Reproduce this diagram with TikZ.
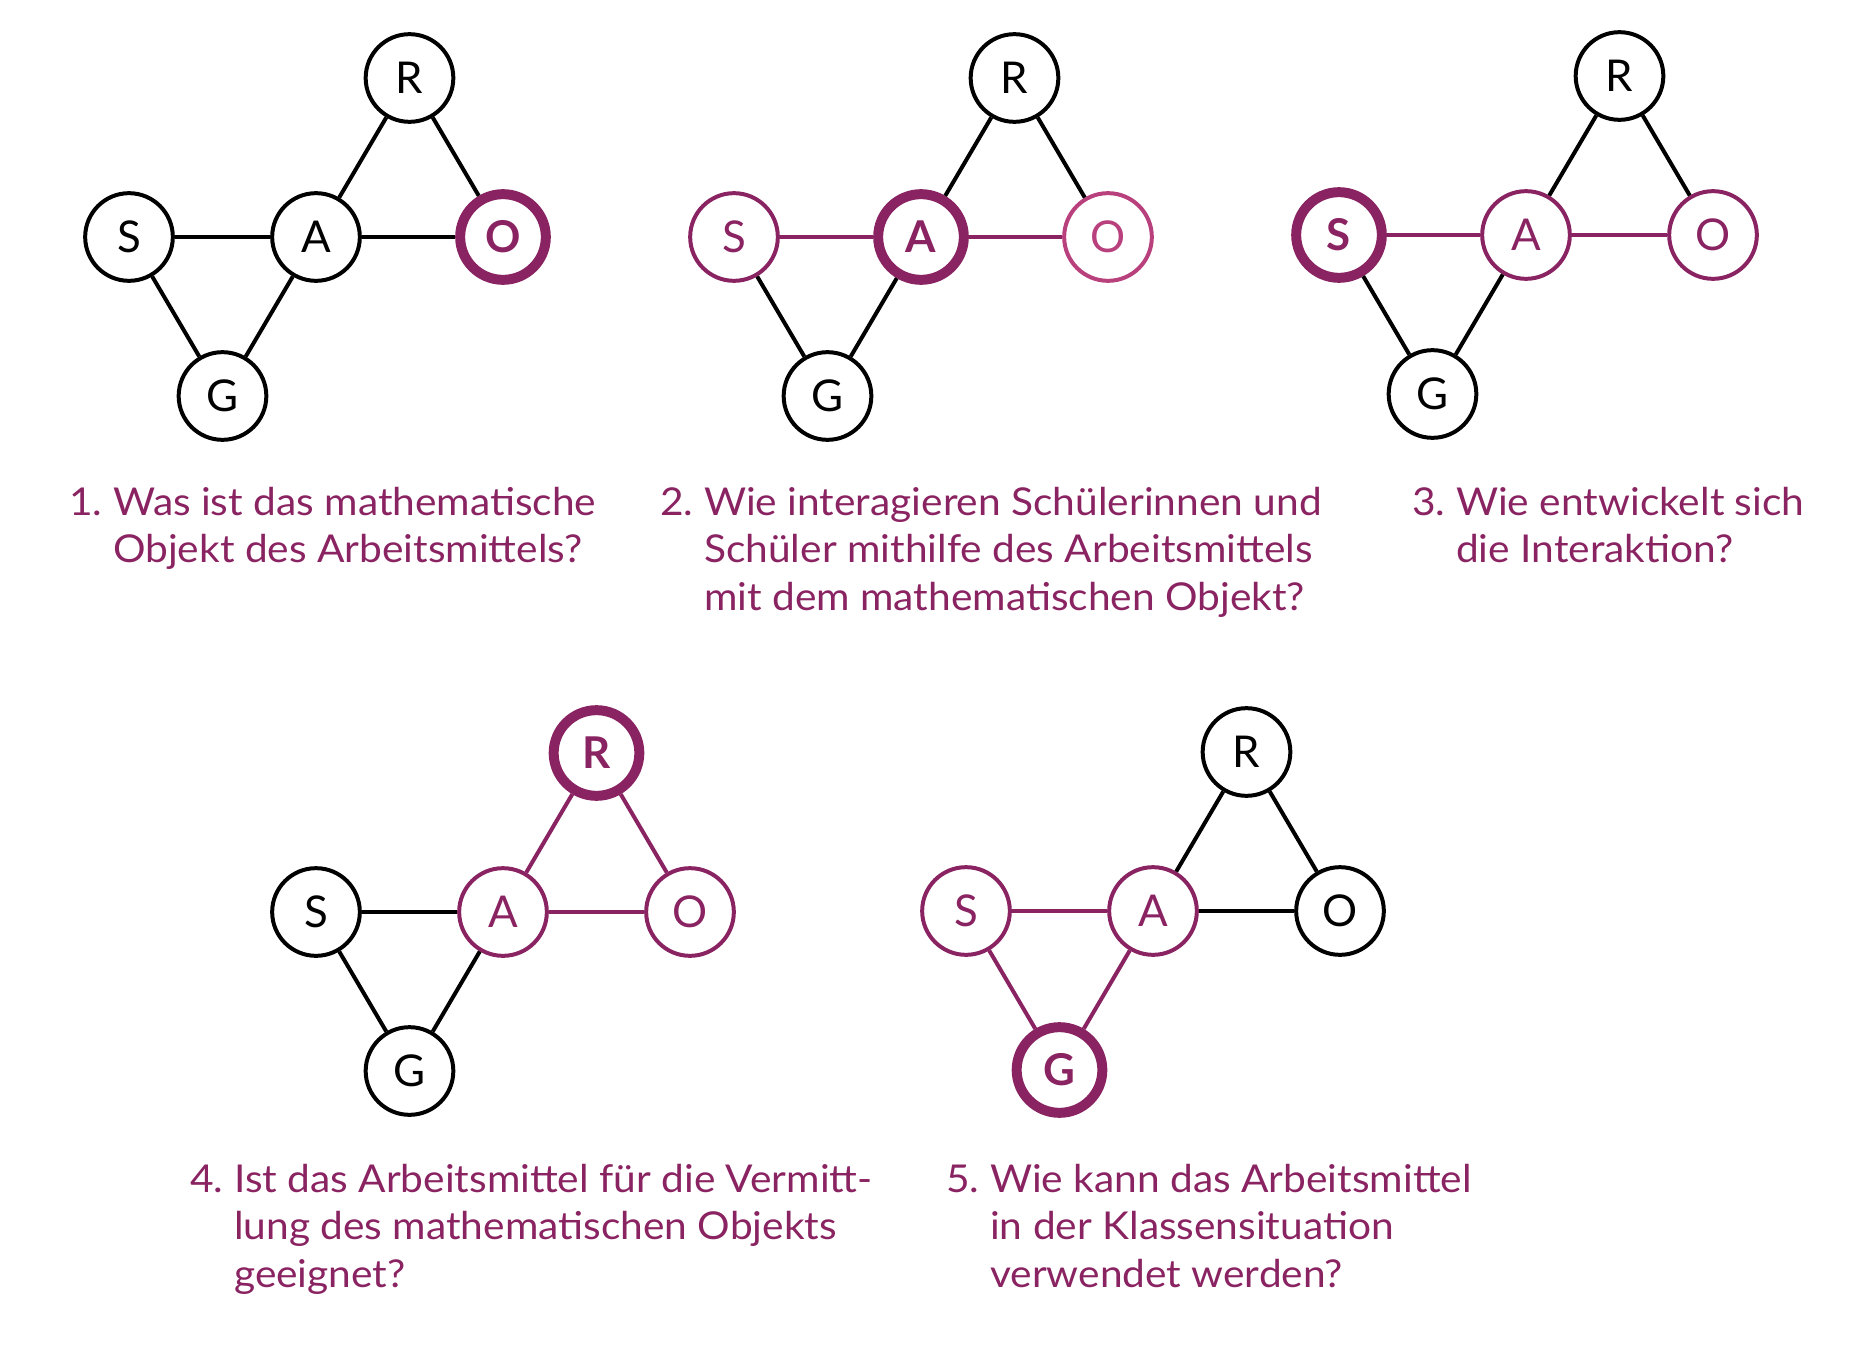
\documentclass[tikz,border=0pt]{standalone}
\usepackage{fontspec}
\setmainfont{Lato}
\newfontfamily\qfont{Lato}[FakeStretch=1.06]
\usepackage{tikz}
\usetikzlibrary{positioning}
\definecolor{saoPurple}{HTML}{8A2361}
\definecolor{saoPink}{HTML}{B8407D}

\tikzset{
  vtx/.style={circle, draw=black, line width=4pt, minimum size=88pt, inner sep=0pt,
    font=\fontsize{44}{44}\selectfont},
  pvtx/.style={vtx, draw=saoPurple, text=saoPurple},
  pinkvtx/.style={vtx, draw=saoPink, text=saoPink},
  hvtx/.style={vtx, draw=saoPurple, text=saoPurple, line width=10pt, minimum size=86pt,
    font=\fontsize{44}{44}\selectfont\bfseries},
  edge/.style={line width=4pt},
  pedge/.style={edge, draw=saoPurple},
  question/.style={anchor=base west, inner sep=0pt, text=saoPurple,
    font=\qfont\fontsize{38.5}{48}\selectfont}
}

\begin{document}
\begin{tikzpicture}[x=1bp, y=-1bp]
\useasboundingbox (0,0) rectangle (1874,1362);

% 1. Objekt
\begin{scope}[shift={(129,237)}]
\node[vtx] (S1) at (0,0) {S};
\node[vtx] (A1) at (187,0) {A};
\node[hvtx] (O1) at (374,0) {O};
\node[vtx] (R1) at (280.5,-159) {R};
\node[vtx] (G1) at (93.5,159) {G};
\end{scope}
\draw[edge] (S1) -- (A1);
\draw[edge] (A1) -- (O1);
\draw[edge] (A1) -- (R1);
\draw[edge] (R1) -- (O1);
\draw[edge] (S1) -- (G1);
\draw[edge] (A1) -- (G1);

% 2. Arbeitsmittel
\begin{scope}[shift={(734,237)}]
\node[pvtx] (S2) at (0,0) {S};
\node[hvtx] (A2) at (187,0) {A};
\node[pinkvtx] (O2) at (374,0) {O};
\node[vtx] (R2) at (280.5,-159) {R};
\node[vtx] (G2) at (93.5,159) {G};
\end{scope}
\draw[pedge] (S2) -- (A2);
\draw[pedge] (A2) -- (O2);
\draw[edge] (A2) -- (R2);
\draw[edge] (R2) -- (O2);
\draw[edge] (S2) -- (G2);
\draw[edge] (A2) -- (G2);

% 3. Schueler
\begin{scope}[shift={(1339,235)}]
\node[hvtx] (S3) at (0,0) {S};
\node[pvtx] (A3) at (187,0) {A};
\node[pvtx] (O3) at (374,0) {O};
\node[vtx] (R3) at (280.5,-159) {R};
\node[vtx] (G3) at (93.5,159) {G};
\end{scope}
\draw[pedge] (S3) -- (A3);
\draw[pedge] (A3) -- (O3);
\draw[edge] (A3) -- (R3);
\draw[edge] (R3) -- (O3);
\draw[edge] (S3) -- (G3);
\draw[edge] (A3) -- (G3);

% 4. Vermittlung
\begin{scope}[shift={(316,912)}]
\node[vtx] (S4) at (0,0) {S};
\node[pvtx] (A4) at (187,0) {A};
\node[pvtx] (O4) at (374,0) {O};
\node[hvtx] (R4) at (280.5,-159) {R};
\node[vtx] (G4) at (93.5,159) {G};
\end{scope}
\draw[edge] (S4) -- (A4);
\draw[pedge] (A4) -- (O4);
\draw[pedge] (A4) -- (R4);
\draw[pedge] (R4) -- (O4);
\draw[edge] (S4) -- (G4);
\draw[edge] (A4) -- (G4);

% 5. Klassensituation
\begin{scope}[shift={(966,911)}]
\node[pvtx] (S5) at (0,0) {S};
\node[pvtx] (A5) at (187,0) {A};
\node[vtx] (O5) at (374,0) {O};
\node[vtx] (R5) at (280.5,-159) {R};
\node[hvtx] (G5) at (93.5,159) {G};
\end{scope}
\draw[pedge] (S5) -- (A5);
\draw[edge] (A5) -- (O5);
\draw[edge] (A5) -- (R5);
\draw[edge] (R5) -- (O5);
\draw[pedge] (S5) -- (G5);
\draw[pedge] (A5) -- (G5);

% Fragen
\node[question] (q1) at (69,515) {\begin{tabular}[t]{@{}l@{}l@{}}
  \makebox[44bp][l]{1.} & Was ist das mathematische\\
  & Objekt des Arbeitsmittels?\end{tabular}};
\node[question] (q2) at (660,515) {\begin{tabular}[t]{@{}l@{}l@{}}
  \makebox[44bp][l]{2.} & Wie interagieren Schülerinnen und\\
  & Schüler mithilfe des Arbeitsmittels\\
  & mit dem mathematischen Objekt?\end{tabular}};
\node[question] (q3) at (1412,515) {\begin{tabular}[t]{@{}l@{}l@{}}
  \makebox[44bp][l]{3.} & Wie entwickelt sich\\
  & die Interaktion?\end{tabular}};
\node[question] (q4) at (190,1192) {\begin{tabular}[t]{@{}l@{}l@{}}
  \makebox[44bp][l]{4.} & Ist das Arbeitsmittel für die Vermitt-\\
  & lung des mathematischen Objekts\\
  & geeignet?\end{tabular}};
\node[question] (q5) at (946,1192) {\begin{tabular}[t]{@{}l@{}l@{}}
  \makebox[44bp][l]{5.} & Wie kann das Arbeitsmittel\\
  & in der Klassensituation\\
  & verwendet werden?\end{tabular}};
\end{tikzpicture}
\end{document}
